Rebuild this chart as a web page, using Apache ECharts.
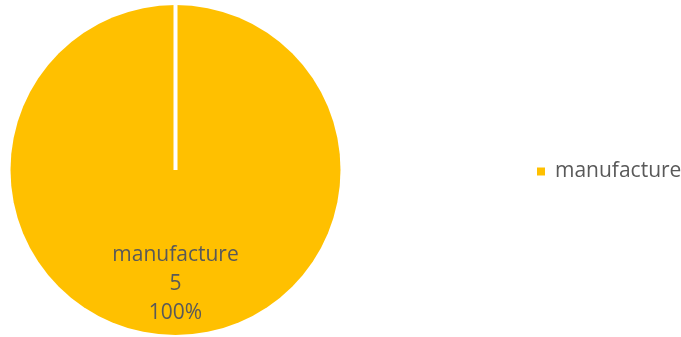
<!DOCTYPE html>
<html>
<head>
    <meta charset="utf-8">
    <title>manufacture pie</title>
    <script src="https://cdn.jsdelivr.net/npm/echarts@6/dist/echarts.min.js"></script>
</head>
<body style="margin:0">
    <div id="main" style="width: 681px;height:337px;"></div>
    <script type="text/javascript">
        var categories = ['manufacture'];
        var values = [5];

        var cx = 175.5, cy = 170, r = 165;
        var myChart = echarts.init(document.getElementById('main'));

        var option = {
            animation: false,
            color: ['#FFC000'],
            textStyle: { fontFamily: 'Open Sans' },
            legend: {
                orient: 'vertical',
                left: 532,
                top: 156,
                icon: 'rect',
                itemWidth: 8,
                itemHeight: 8,
                itemGap: 10,
                textStyle: { color: '#595959', fontSize: 21, fontFamily: 'Open Sans', padding: [0, 0, 0, 5] },
                data: categories
            },
            // white seam Excel draws at the start of the single slice
            graphic: [{
                type: 'line',
                z: 100,
                shape: { x1: cx, y1: cy, x2: cx, y2: cy - r },
                style: { stroke: '#ffffff', lineWidth: 4 }
            }],
            series: [{
                type: 'pie',
                center: [cx, cy],
                radius: r,
                startAngle: 90,
                label: {
                    position: 'inside',
                    // two empty lines push the text block down like Excel does
                    formatter: '\n\n{b}\n{c}\n{d}%',
                    color: '#595959',
                    fontSize: 21,
                    lineHeight: 29,
                    fontFamily: 'Open Sans'
                },
                labelLine: { show: false },
                emphasis: { disabled: true },
                data: categories.map(function (c, i) { return { name: c, value: values[i] }; })
            }]
        };
        myChart.setOption(option);
    </script>
</body>
</html>
